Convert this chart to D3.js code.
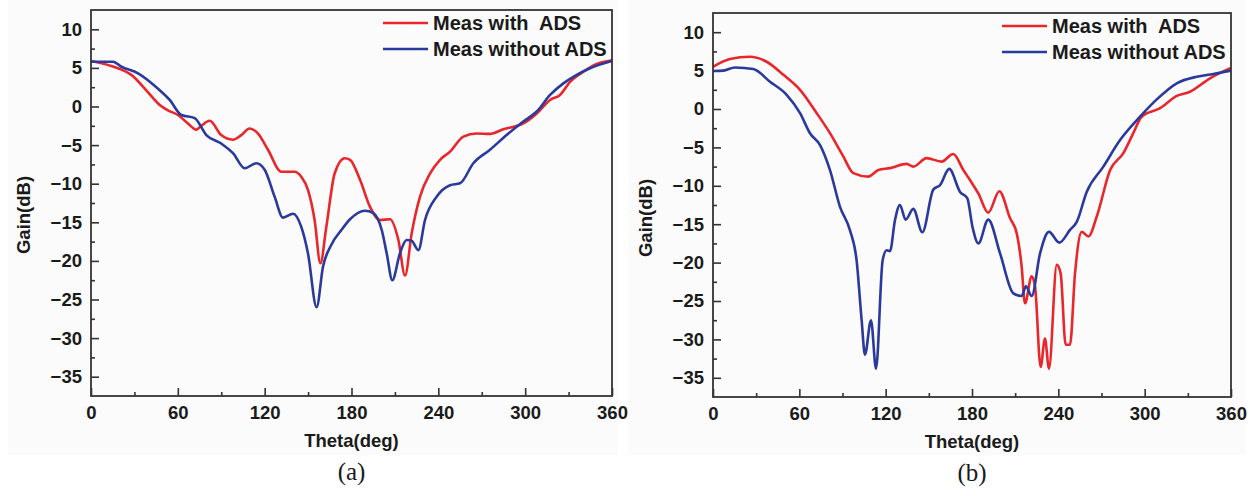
<!DOCTYPE html>
<html>
<head>
<meta charset="utf-8">
<script src="https://cdn.jsdelivr.net/npm/d3@7"></script>
<style>
  html, body { margin: 0; padding: 0; background: #fff; }
  svg { display: block; }
  text { font-family: "Liberation Sans", Arial, sans-serif; font-weight: bold; fill: #1a1a1a; white-space: pre; }
  .cap { font-family: "Liberation Serif", "Times New Roman", serif; font-weight: normal; }
</style>
</head>
<body>
<svg id="chart" width="1255" height="496"></svg>
<script>
'use strict';

// data [theta(deg), gain(dB)]
var aWithADS = [[0,5.9],[18.6,4.95],[27.9,4.1],[38.2,2.1],[47.5,0.2],[53.2,-0.5],[60.1,-1.1],[67,-2.2],[72.8,-3.0],[76.2,-2.5],
  [82,-1.85],[90,-3.7],[98.1,-4.3],[103.9,-3.7],[109.6,-2.85],[115.4,-3.5],[122.3,-5.6],[131.5,-8.45],[140.7,-8.45],[145.3,-9.1],
  [149.9,-10.8],[154.5,-14.7],[158.5,-20.3],[162.6,-15.6],[168.4,-8.65],[175.3,-6.7],[179,-6.9],[185.9,-9.5],[192.8,-13.0],
  [199.7,-14.7],[206.6,-14.6],[212.4,-17.3],[217,-21.9],[221.6,-16.4],[227.3,-11.7],[234.3,-8.65],[241.2,-6.9],[248.1,-5.85],
  [257.3,-3.9],[266.5,-3.5],[275.7,-3.55],[284.9,-2.95],[298.7,-2.2],[308,-0.9],[317.2,0.85],[324.1,1.5],[331,3.2],[340.2,4.5],
  [349.4,5.5],[360,6.0]];

var aWithoutADS = [[0,5.8],[15.2,5.8],[21,5.15],[32.5,4.3],[47.5,2.1],[54.4,0.85],[62.4,-1.1],[71.6,-1.5],[79.7,-3.7],[90,-4.8],
  [98.1,-6.05],[106.2,-8.0],[114.2,-7.35],[120,-8.2],[126.9,-11.7],[132.7,-14.4],[139.6,-13.9],[145.3,-15.6],[149.9,-19.0],
  [155.9,-26.0],[160.3,-20.75],[166.1,-17.9],[173,-16.0],[179,-14.6],[189.3,-13.5],[195.1,-13.8],[200.9,-16.0],[204.3,-19.0],
  [208.2,-22.5],[213.5,-19.0],[218.1,-17.3],[221.5,-17.4],[226.2,-18.6],[230.8,-14.7],[238.8,-11.7],[248.1,-10.2],[255,-9.95],
  [264.2,-7.35],[275.7,-5.6],[287.2,-3.7],[298.7,-1.95],[308,-0.65],[317.2,1.5],[326.4,3.0],[335.6,4.1],[344.8,4.95],[360,5.9]];

var bWithADS = [[0,5.5],[11.8,6.5],[25.7,6.8],[37.3,6.15],[48.9,4.45],[60.5,2.5],[72.1,-0.55],[81.3,-3.15],[90.6,-6.2],[97.5,-8.35],
  [107.9,-8.8],[114.9,-7.95],[123,-7.7],[134.6,-7.15],[139.2,-7.5],[148.5,-6.4],[158.9,-6.85],[167,-5.85],[174,-7.95],[178.6,-9.25],
  [184.4,-11.0],[191.3,-13.5],[199,-10.7],[206.4,-14.2],[211.1,-16.2],[214.5,-20.5],[216.8,-25.3],[221.5,-21.8],[223.8,-23.1],
  [227.7,-33.6],[230.7,-29.9],[233.5,-33.8],[238.9,-20.3],[241.6,-21.4],[245.1,-30.7],[248.1,-30.7],[251.6,-21.4],[256.3,-16.0],
  [260.9,-16.6],[266.7,-14.0],[276,-7.95],[285.2,-5.75],[292.1,-3.15],[297.9,-1.0],[310.7,0.1],[322.3,1.7],[331.5,2.25],
  [345.4,4.0],[360,5.35]];

var bWithoutADS = [[0,4.95],[7.2,5.0],[15.3,5.4],[28,5.2],[39.6,3.55],[51.2,1.85],[60.5,-0.55],[67.4,-3.15],[74.4,-4.7],[81.3,-7.95],
  [88.2,-12.7],[95.2,-15.8],[99.8,-19.7],[103.3,-27.5],[105.6,-32.0],[109.8,-27.5],[113.3,-33.8],[117.9,-19.7],[120.7,-18.4],
  [123,-18.5],[126.5,-14.45],[129.9,-12.5],[133.9,-14.4],[139.2,-13.0],[145.5,-16.05],[153.1,-10.5],[157.8,-9.9],[164.2,-7.8],
  [171.7,-10.8],[176.7,-11.6],[180.5,-15.5],[184.4,-17.5],[191.3,-14.4],[199.5,-18.8],[208.7,-24.0],[214.5,-24.35],[217.5,-23.1],
  [221.5,-24.35],[227.3,-18.8],[233.5,-16.0],[240.7,-17.4],[248.1,-15.75],[252.8,-14.7],[259.7,-10.8],[271.3,-7.5],[282.9,-4.05],
  [296.8,-1.0],[308.4,1.25],[322.3,3.35],[336.2,4.2],[347.7,4.55],[360,5.0]];

var seriesNames = ['Meas with  ADS', 'Meas without ADS'];
var seriesColors = ['#e8262b', '#2a3a9c'];
var xTicks = [0, 60, 120, 180, 240, 300, 360];
var yTicks = [-35, -30, -25, -20, -15, -10, -5, 0, 5, 10];
var xDomain = [0, 360];
var yDomain = [-37.5, 12.5];

var svg = d3.select('#chart');

var panels = [
  { left: 91, top: 10, right: 612, bottom: 396, caption: '(a)', series: [aWithADS, aWithoutADS], bg: [8, 0, 618, 455] },
  { left: 713, top: 13, right: 1231, bottom: 397, caption: '(b)', series: [bWithADS, bWithoutADS], bg: [628, 0, 1245, 455] }
];

function drawPanel(p) {
  var g = svg.append('g');
  var w = p.right - p.left, h = p.bottom - p.top;

  g.append('rect')
    .attr('x', p.bg[0]).attr('y', p.bg[1])
    .attr('width', p.bg[2] - p.bg[0]).attr('height', p.bg[3] - p.bg[1])
    .attr('fill', '#fbfbfb');

  var x = d3.scaleLinear().domain(xDomain).range([p.left, p.right]);
  var y = d3.scaleLinear().domain(yDomain).range([p.bottom, p.top]);

  // minor ticks (inward)
  var xMinor = d3.range(30, 360, 60);
  var yMinor = d3.range(-32.5, 12.5, 5);

  var xAxis = g.append('g')
    .attr('transform', 'translate(0,' + p.bottom + ')')
    .call(d3.axisBottom(x).tickValues(xTicks).tickFormat(d3.format('d')).tickSizeInner(-8).tickSizeOuter(0).tickPadding(10));
  xAxis.select('.domain').remove();
  xAxis.selectAll('text').style('font-size', '18.5px').attr('fill', '#1a1a1a');
  xAxis.selectAll('line').attr('stroke', '#333').attr('stroke-width', 1.6);

  var xAxisMinor = g.append('g')
    .attr('transform', 'translate(0,' + p.bottom + ')')
    .call(d3.axisBottom(x).tickValues(xMinor).tickFormat('').tickSizeInner(-4).tickSizeOuter(0));
  xAxisMinor.select('.domain').remove();
  xAxisMinor.selectAll('line').attr('stroke', '#333').attr('stroke-width', 1.6);

  var yAxis = g.append('g')
    .attr('transform', 'translate(' + p.left + ',0)')
    .call(d3.axisLeft(y).tickValues(yTicks).tickFormat(d3.format('d')).tickSizeInner(-8).tickSizeOuter(0).tickPadding(9));
  yAxis.select('.domain').remove();
  yAxis.selectAll('text').style('font-size', '18.5px').attr('fill', '#1a1a1a');
  yAxis.selectAll('line').attr('stroke', '#333').attr('stroke-width', 1.6);

  var yAxisMinor = g.append('g')
    .attr('transform', 'translate(' + p.left + ',0)')
    .call(d3.axisLeft(y).tickValues(yMinor).tickFormat('').tickSizeInner(-4).tickSizeOuter(0));
  yAxisMinor.select('.domain').remove();
  yAxisMinor.selectAll('line').attr('stroke', '#333').attr('stroke-width', 1.6);

  // curves
  var line = d3.line()
    .x(function(d){ return x(d[0]); })
    .y(function(d){ return y(d[1]); })
    .curve(d3.curveMonotoneX);

  g.append('defs').append('clipPath').attr('id', 'clip' + p.caption.charAt(1))
    .append('rect').attr('x', p.left).attr('y', p.top).attr('width', w).attr('height', h);

  g.append('g').attr('clip-path', 'url(#clip' + p.caption.charAt(1) + ')')
    .selectAll('path')
    .data(p.series)
    .enter().append('path')
    .attr('d', line)
    .attr('fill', 'none')
    .attr('stroke', function(d, i){ return seriesColors[i]; })
    .attr('stroke-width', 2.6)
    .attr('stroke-linejoin', 'round');

  // frame
  g.append('rect')
    .attr('x', p.left).attr('y', p.top).attr('width', w).attr('height', h)
    .attr('fill', 'none').attr('stroke', '#333').attr('stroke-width', 1.8);

  // legend
  var lg = g.append('g');
  seriesNames.forEach(function(name, i){
    var ly = p.top + 13 + i * 26;
    lg.append('line')
      .attr('x1', p.right - 229).attr('x2', p.right - 184)
      .attr('y1', ly).attr('y2', ly)
      .attr('stroke', seriesColors[i]).attr('stroke-width', 2.6);
    lg.append('text')
      .attr('x', p.right - 179).attr('y', ly + 7)
      .style('font-size', '20px')
      .text(name);
  });

  // axis titles
  g.append('text')
    .attr('x', (p.left + p.right) / 2).attr('y', p.bottom + 51)
    .attr('text-anchor', 'middle')
    .style('font-size', '18.5px')
    .text('Theta(deg)');

  g.append('text')
    .attr('transform', 'translate(' + (p.left - 61) + ',' + (p.top + 205) + ') rotate(-90)')
    .attr('text-anchor', 'middle')
    .style('font-size', '18.5px')
    .text('Gain(dB)');

  g.append('text')
    .attr('class', 'cap')
    .attr('x', (p.left + p.right) / 2).attr('y', p.bottom + 84)
    .attr('text-anchor', 'middle')
    .style('font-size', '25px')
    .text(p.caption);
}

panels.forEach(drawPanel);
</script>
</body>
</html>
